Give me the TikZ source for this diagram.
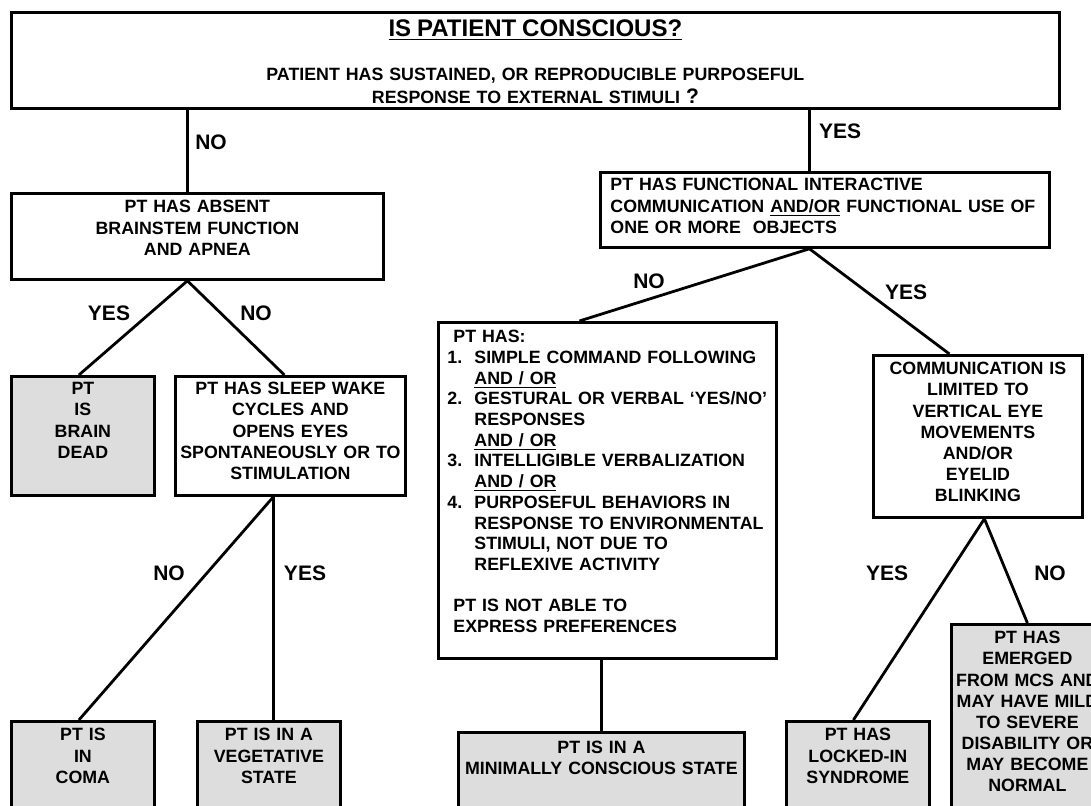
\documentclass[tikz,border=0pt]{standalone}
\usepackage{fontspec}
\setmainfont{Liberation Sans}
\definecolor{endgray}{RGB}{221,221,221}
\tikzset{
  box/.style={draw, line width=1.4pt, anchor=north west, inner xsep=0pt, inner ysep=0pt, align=center, font=\fontsize{8.9}{10.6}\selectfont\bfseries},
  endbox/.style={box, fill=endgray},
  answer/.style={font=\fontsize{10.5}{12}\selectfont\bfseries},
  link/.style={line width=1.4pt},
}
\begin{document}
\begin{tikzpicture}[x=0.5pt,y=-0.5pt]
\fill[white] (0,0) rectangle (1091,806);
\useasboundingbox (0,0) rectangle (1091,806);
\clip (0,0) rectangle (1091,806);
\node (top) at (10,11) [box, text width=524pt, text height=12pt, text depth=36pt, font=\fontsize{8.9}{11.5}\selectfont\bfseries] {{\fontsize{12}{14}\selectfont\underline{IS PATIENT CONSCIOUS?}}\\[10.7pt] PATIENT HAS SUSTAINED, OR REPRODUCIBLE PURPOSEFUL\\ RESPONSE TO EXTERNAL STIMULI {\fontsize{10.5}{12}\selectfont ?}};
\node (brainstem) at (10,192) [box, text width=186pt, text height=9.7pt, text depth=33.3pt, font=\fontsize{8.9}{10.75}\selectfont\bfseries] {PT HAS ABSENT\\ BRAINSTEM FUNCTION\\ AND APNEA};
\node (braindead) at (10,375) [endbox, text width=71.5pt, text height=9.2pt, text depth=50.3pt] {PT\\ IS\\ BRAIN\\ DEAD};
\node (sleep) at (174,375) [box, text width=115pt, text height=9.2pt, text depth=50.3pt] {PT HAS SLEEP WAKE\\ CYCLES AND\\ OPENS EYES\\ SPONTANEOUSLY OR TO\\ STIMULATION};
\node (coma) at (10,720) [endbox, text width=71.5pt, text height=9.7pt, text depth=45.3pt] {PT IS\\ IN\\ COMA};
\node (veg) at (196,720) [endbox, text width=71.5pt, text height=9.7pt, text depth=45.3pt] {PT IS IN A\\ VEGETATIVE\\ STATE};
\node (functional) at (599,171) [box, align=left, inner xsep=5pt, text width=214.5pt, text height=9.2pt, text depth=28.3pt, font=\fontsize{8.9}{10.75}\selectfont\bfseries] {PT HAS FUNCTIONAL INTERACTIVE\\ COMMUNICATION \underline{AND/OR} FUNCTIONAL USE OF\\ ONE OR MORE\ \ OBJECTS};
\node (mcs) at (437,321) [box, align=left, inner xsep=4.5pt, text width=160pt, text height=10.2pt, text depth=157.8pt, font=\fontsize{8.9}{10.35}\selectfont\bfseries] {\hspace*{3pt}PT HAS:\\
\makebox[13.5pt][l]{1.}SIMPLE COMMAND FOLLOWING\\
\hspace*{13.5pt}\underline{AND / OR}\\
\makebox[13.5pt][l]{2.}GESTURAL OR VERBAL ‘YES/NO’\\
\hspace*{13.5pt}RESPONSES\\
\hspace*{13.5pt}\underline{AND / OR}\\
\makebox[13.5pt][l]{3.}INTELLIGIBLE VERBALIZATION\\
\hspace*{13.5pt}\underline{AND / OR}\\
\makebox[13.5pt][l]{4.}PURPOSEFUL BEHAVIORS IN\\
\hspace*{13.5pt}RESPONSE TO ENVIRONMENTAL\\
\hspace*{13.5pt}STIMULI, NOT DUE TO\\
\hspace*{13.5pt}REFLEXIVE ACTIVITY\\[10.35pt]
\hspace*{3pt}PT IS NOT ABLE TO\\
\hspace*{3pt}EXPRESS PREFERENCES};
\node (mcsstate) at (457,731) [endbox, text width=143pt, text height=10.7pt, text depth=38.8pt, font=\fontsize{8.9}{10.3}\selectfont\bfseries] {PT IS IN A\\ MINIMALLY CONSCIOUS STATE};
\node (comm) at (872,354) [box, text width=104.5pt, text height=9.7pt, text depth=71.3pt] {COMMUNICATION IS\\ LIMITED TO\\ VERTICAL EYE\\ MOVEMENTS\\ AND/OR\\ EYELID\\ BLINKING};
\node (locked) at (785,720) [endbox, text width=71.5pt, text height=9.7pt, text depth=45.3pt] {PT HAS\\ LOCKED-IN\\ SYNDROME};
\node (emerged) at (950,623) [endbox, text width=76pt, text height=9.7pt, text depth=93.8pt, font=\fontsize{8.9}{10.57}\selectfont\bfseries] {PT HAS\\ EMERGED\\ FROM MCS AND\\ MAY HAVE MILD\\ TO SEVERE\\ DISABILITY OR\\ MAY BECOME\\ NORMAL};
\coordinate (stemin) at ([xshift=-5pt]brainstem.north);
\coordinate (funcin) at ([xshift=-7.75pt]functional.north);
\coordinate (stemout) at ([xshift=-5pt]brainstem.south);
\coordinate (sleepout) at ([xshift=-8.5pt]sleep.south);
\coordinate (funcout) at ([xshift=-7.75pt]functional.south);
\coordinate (commout) at ([xshift=3.25pt]comm.south);
\draw[link] (stemin |- top.south) -- (stemin);
\draw[link] (funcin |- top.south) -- (funcin);
\draw[link] (stemout) -- ([xshift=-2pt]braindead.north);
\draw[link] (stemout) -- ([xshift=-3pt]sleep.north);
\draw[link] (sleepout) -- ([xshift=-2pt]coma.north);
\draw[link] (sleepout) -- (sleepout |- veg.north);
\draw[link] (funcout) -- ([xshift=-14pt]mcs.north);
\draw[link] (funcout) -- ([xshift=-14.25pt]comm.north);
\draw[link] (mcsstate.north |- mcs.south) -- (mcsstate.north);
\draw[link] (commout) -- ([xshift=-2.25pt]locked.north);
\draw[link] (commout) -- (emerged.north);
\node (nobrain) at (211,142) [answer] {NO};
\node (yesfunc) at (840,131) [answer] {YES};
\node (yesdead) at (109,313) [answer] {YES};
\node (nosleep) at (256,313) [answer] {NO};
\node (nocoma) at (169,573) [answer] {NO};
\node (yesveg) at (305,573) [answer] {YES};
\node (nomcs) at (649,281) [answer] {NO};
\node (yescomm) at (906,292) [answer] {YES};
\node (yeslocked) at (887,573) [answer] {YES};
\node (noemerged) at (1050,573) [answer] {NO};
\end{tikzpicture}
\end{document}
